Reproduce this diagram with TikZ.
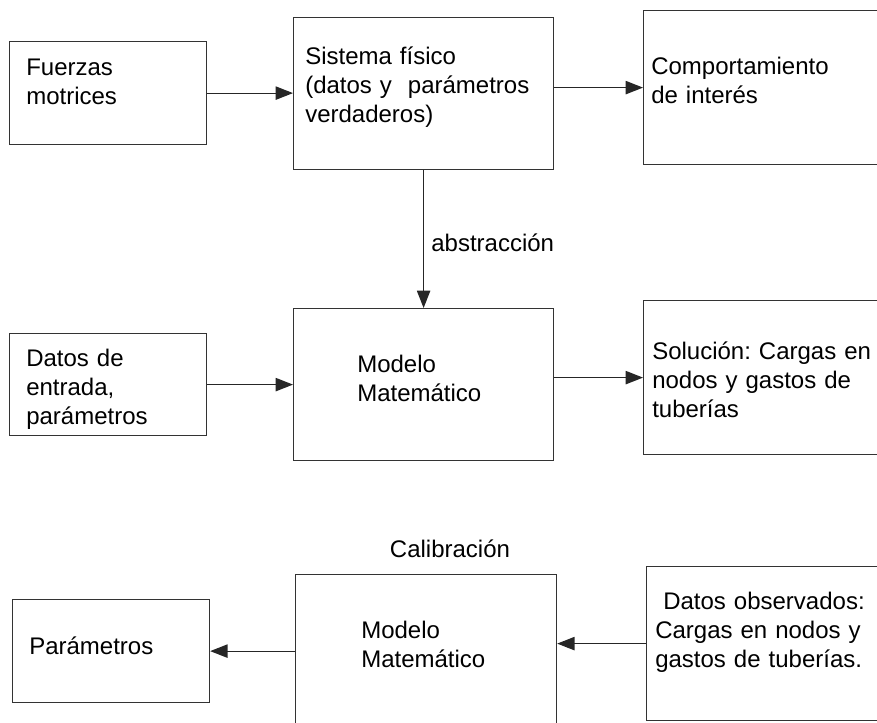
\documentclass[tikz,border=0pt]{standalone}
\usepackage{fontspec}
\setmainfont{Liberation Sans}
\usetikzlibrary{arrows.meta}
\frenchspacing

\begin{document}
\begin{tikzpicture}[x=0.75pt, y=-0.75pt,
	font=\fontsize{18}{22}\selectfont,
	box/.style={draw=black!80, line width=0.9pt, anchor=north west, inner sep=0pt},
	txt/.style={anchor=base west, inner sep=0pt, text width=300pt, align=left},
	arr/.style={draw=black!85, line width=0.9pt, -{Triangle[length=13pt, width=10pt]}}]
	
	% 1. Frame of the picture (pixel coordinates, y downwards)
	\useasboundingbox (0,0) rectangle (877,722);
	\clip (0,0) rectangle (877,722);
	\def\px{0.75pt}
	
	% 2. Upper row: physical system
	\node[box, minimum width=197*\px, minimum height=103*\px] (fuerzas) at (9,41) {};
	\node[box, minimum width=260*\px, minimum height=152*\px] (sistema) at (293,17) {};
	\node[box, minimum width=260*\px, minimum height=154*\px] (comport) at (643,10) {};
	
	% 3. Middle row: mathematical model
	\node[box, minimum width=197*\px, minimum height=102*\px] (datos) at (9,333) {};
	\node[box, minimum width=260*\px, minimum height=152*\px] (modelo) at (293,308) {};
	\node[box, minimum width=260*\px, minimum height=154*\px] (solucion) at (643,300) {};
	
	% 4. Lower row: calibration
	\node[box, minimum width=197*\px, minimum height=103*\px] (param) at (12,599) {};
	\node[box, minimum width=261*\px, minimum height=170*\px] (modeloB) at (295,574) {};
	\node[box, minimum width=260*\px, minimum height=154*\px] (observ) at (646,566) {};
	
	% 5. Texts inside the boxes
	\node[txt] (tfuerzas) at (26,75) {Fuerzas\\motrices};
	\node[txt] (tsistema) at (305,64) {Sistema físico\\(datos y~ parámetros\\verdaderos)};
	\node[txt] (tcomport) at (651,74) {Comportamiento\\de interés};
	\node[txt] (tdatos) at (26,366) {Datos de\\entrada,\\parámetros};
	\node[txt] (tmodelo) at (357,372) {Modelo\\Matemático};
	\node[txt] (tsolucion) at (652,359) {Solución: Cargas en\\nodos y gastos de\\tuberías};
	\node[txt] (tparam) at (29,654) {Parámetros};
	\node[txt] (tmodeloB) at (361,638) {Modelo\\Matemático};
	\node[txt] (tobserv) at (655,609) {~Datos observados:\\Cargas en nodos y\\gastos de tuberías.};
	\node[anchor=base, inner sep=0pt] (calib) at (450,557) {Calibración};
	
	% 6. Arrows
	\draw[arr] (fuerzas.east) -- (fuerzas.east -| sistema.west);
	\draw[arr] (sistema.east |- comport.west) -- (comport.west);
	\draw[arr] (sistema.south) -- (modelo.north)
	node[pos=0.53, right=2pt] (abstr) {abstracción};
	\draw[arr] (datos.east) -- (datos.east -| modelo.west);
	\draw[arr] (modelo.east |- solucion.west) -- (solucion.west);
	\draw[arr] (modeloB.west |- param.east) -- (param.east);
	\draw[arr] (observ.west) -- (observ.west -| modeloB.east);
	
\end{tikzpicture}
\end{document}
